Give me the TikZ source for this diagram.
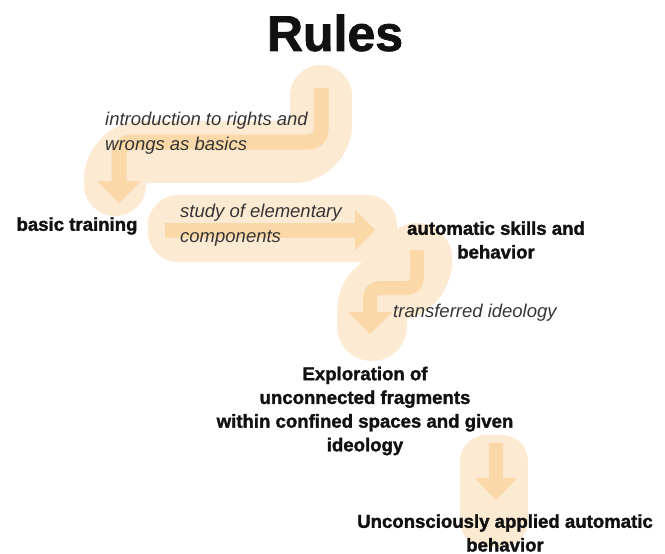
\documentclass[tikz,border=0pt]{standalone}
\usepackage{fontspec}
\setmainfont{Liberation Sans}
\newfontfamily\heavyfont{Liberation Sans}[BoldFeatures={FakeBold=1.6}]
\definecolor{bandc}{RGB}{253,234,210}
\definecolor{arrowc}{RGB}{250,216,168}
\definecolor{ink}{RGB}{17,17,17}
\begin{document}
\begin{tikzpicture}[x=1pt,y=-1pt,
  band/.style={line width=62pt, draw=bandc, line cap=round, rounded corners=28pt},
  bandbox/.style={fill=bandc, rounded corners=30pt},
  innerline/.style={line width=15pt, draw=arrowc, rounded corners=12pt},
  head/.style={fill=arrowc},
  lbl/.style={font=\heavyfont\fontsize{18.6}{23.7}\selectfont\bfseries, text=ink, align=center, inner sep=0pt},
  ital/.style={font=\fontsize{18.5}{24.5}\selectfont\itshape, text=ink!85, align=left, inner sep=0pt}]
\useasboundingbox (0,0) rectangle (665,554);

% band 1
\draw[band] (321,96) -- (321,152) -- (115,152) -- (115,185);
\draw[innerline] (321,88) -- (321,142) -- (119,142) -- (119,182);
\fill[head] (97,181) -- (141,181) -- (119,203) -- cycle;

% band 2
\fill[bandbox] (148,195) rectangle (397,262);
\draw[innerline] (165,230) -- (356,230);
\fill[head] (355,210) -- (355,250) -- (375,230) -- cycle;

% band 3
\draw[band, line width=70pt, rounded corners=25pt] (417,258) -- (417,286) -- (372,286) -- (372,326);
\draw[innerline, line width=14pt, rounded corners=10pt] (417,250) -- (417,288) -- (370,288) -- (370,313);
\fill[head] (348,312) -- (392,312) -- (370,334) -- cycle;

% band 4
\fill[bandbox, rounded corners=26pt] (460,435) rectangle (528,547);
\draw[innerline, line width=14pt] (496,443) -- (496,479);
\fill[head] (475,478) -- (517,478) -- (496,500) -- cycle;

% texts
\node[font=\heavyfont\fontsize{50}{60}\selectfont\bfseries, text=ink, inner sep=0pt] (title) at (335,33) {Rules};
\node[ital, anchor=west] (intro) at (105,133) {introduction to rights and\\wrongs as basics};
\node[lbl] (basic) at (77,226) {basic training};
\node[ital, anchor=west] (study) at (180,225) {study of elementary\\components};
\node[lbl] (auto) at (496,240) {automatic skills and\\behavior};
\node[ital, anchor=west] (transf) at (393,313) {transferred ideology};
\node[lbl] (explo) at (365,411) {Exploration of\\unconnected fragments\\within confined spaces and given\\ideology};
\node[lbl] (uncon) at (505,533) {Unconsciously applied automatic\\behavior};
\end{tikzpicture}
\end{document}
